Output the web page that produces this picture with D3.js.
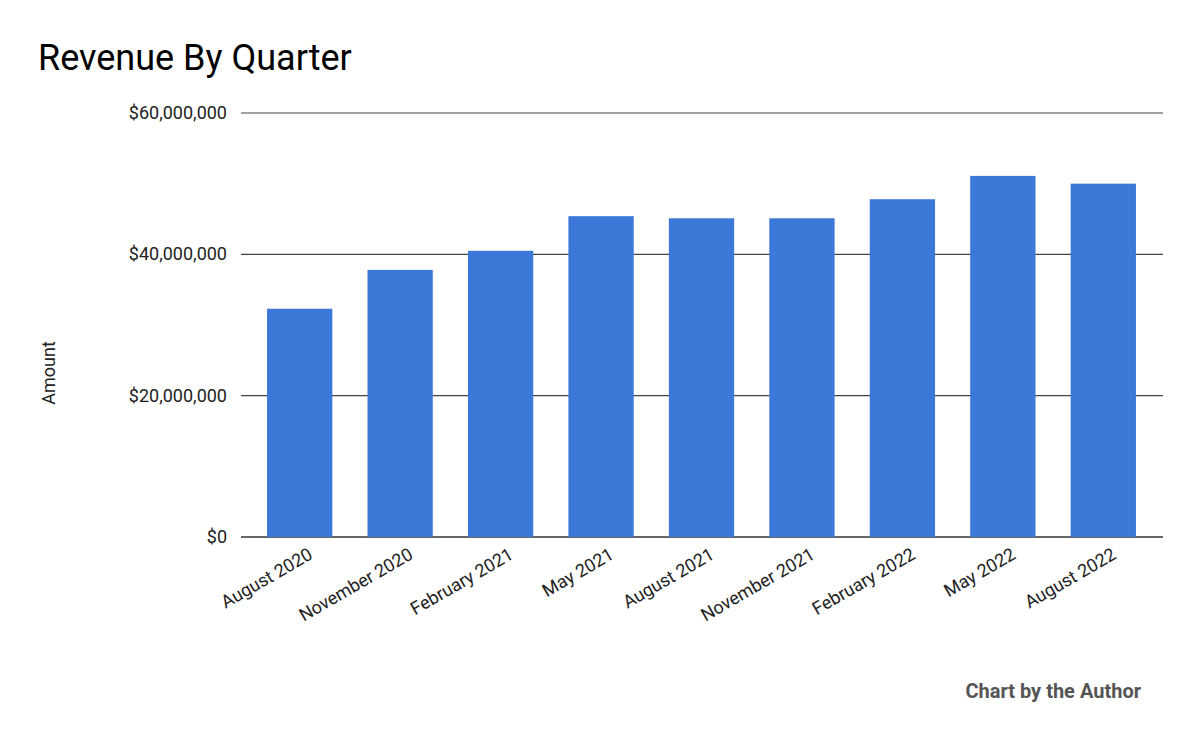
<!DOCTYPE html>
<html lang="en">
<head>
<meta charset="UTF-8">
<title>Revenue By Quarter</title>
<script src="https://cdn.jsdelivr.net/npm/d3@7"></script>
<style>
  body { margin: 0; background: #fff; }
  text { font-family: Roboto, "Noto Sans", sans-serif; }
</style>
</head>
<body>
<svg id="chart" width="1200" height="742"></svg>
<script>
const quarters = ["August 2020", "November 2020", "February 2021", "May 2021", "August 2021",
  "November 2021", "February 2022", "May 2022", "August 2022"]
const revenue = [32300000, 37800000, 40500000, 45400000, 45100000, 45100000, 47800000, 51100000, 50000000]
const yTicks = [0, 20000000, 40000000, 60000000]

const svg = d3.select('#chart')

const x = d3.scaleBand().domain(quarters).range([257, 1146]).paddingInner(0.35).paddingOuter(0.1)
const y = d3.scaleLinear().domain([0, 60000000]).range([537, 113])

// title
svg.append('text').attr('x', 38).attr('y', 70)
  .attr('font-size', 36).attr('fill', '#000').text('Revenue By Quarter')

// gridlines + y labels
const fmt = d => '$' + d3.format(',')(d)
svg.selectAll('.grid').data(yTicks).join('line')
  .attr('x1', 241).attr('x2', 1163)
  .attr('y1', d => y(d)).attr('y2', d => y(d))
  .attr('stroke', d => d === 0 ? '#333' : '#444').attr('stroke-width', d => d === 0 ? 1.5 : 1.2)

svg.selectAll('.ylab').data(yTicks).join('text')
  .attr('x', 227).attr('y', d => y(d) + 6)
  .attr('text-anchor', 'end').attr('font-size', 18).attr('fill', '#222')
  .text(fmt)

// bars
svg.selectAll('rect').data(revenue).join('rect')
  .attr('x', (d, i) => x(quarters[i]))
  .attr('y', d => y(d))
  .attr('width', x.bandwidth())
  .attr('height', d => y(0) - y(d))
  .attr('fill', '#3c78d8')

// x labels, rotated
svg.selectAll('.xlab').data(quarters).join('text')
  .attr('text-anchor', 'end').attr('font-size', 18).attr('fill', '#222')
  .attr('transform', d => `translate(${x(d) + x.bandwidth() / 2 + 14},${558}) rotate(-30)`)
  .text(d => d)

// y axis title
svg.append('text').attr('transform', 'translate(55,373) rotate(-90)')
  .attr('text-anchor', 'middle').attr('font-size', 18).attr('fill', '#222').text('Amount')

// credit
svg.append('text').attr('x', 1141).attr('y', 698).attr('text-anchor', 'end')
  .attr('font-size', 20).attr('font-weight', 'bold').attr('fill', '#555').text('Chart by the Author')
</script>
</body>
</html>
